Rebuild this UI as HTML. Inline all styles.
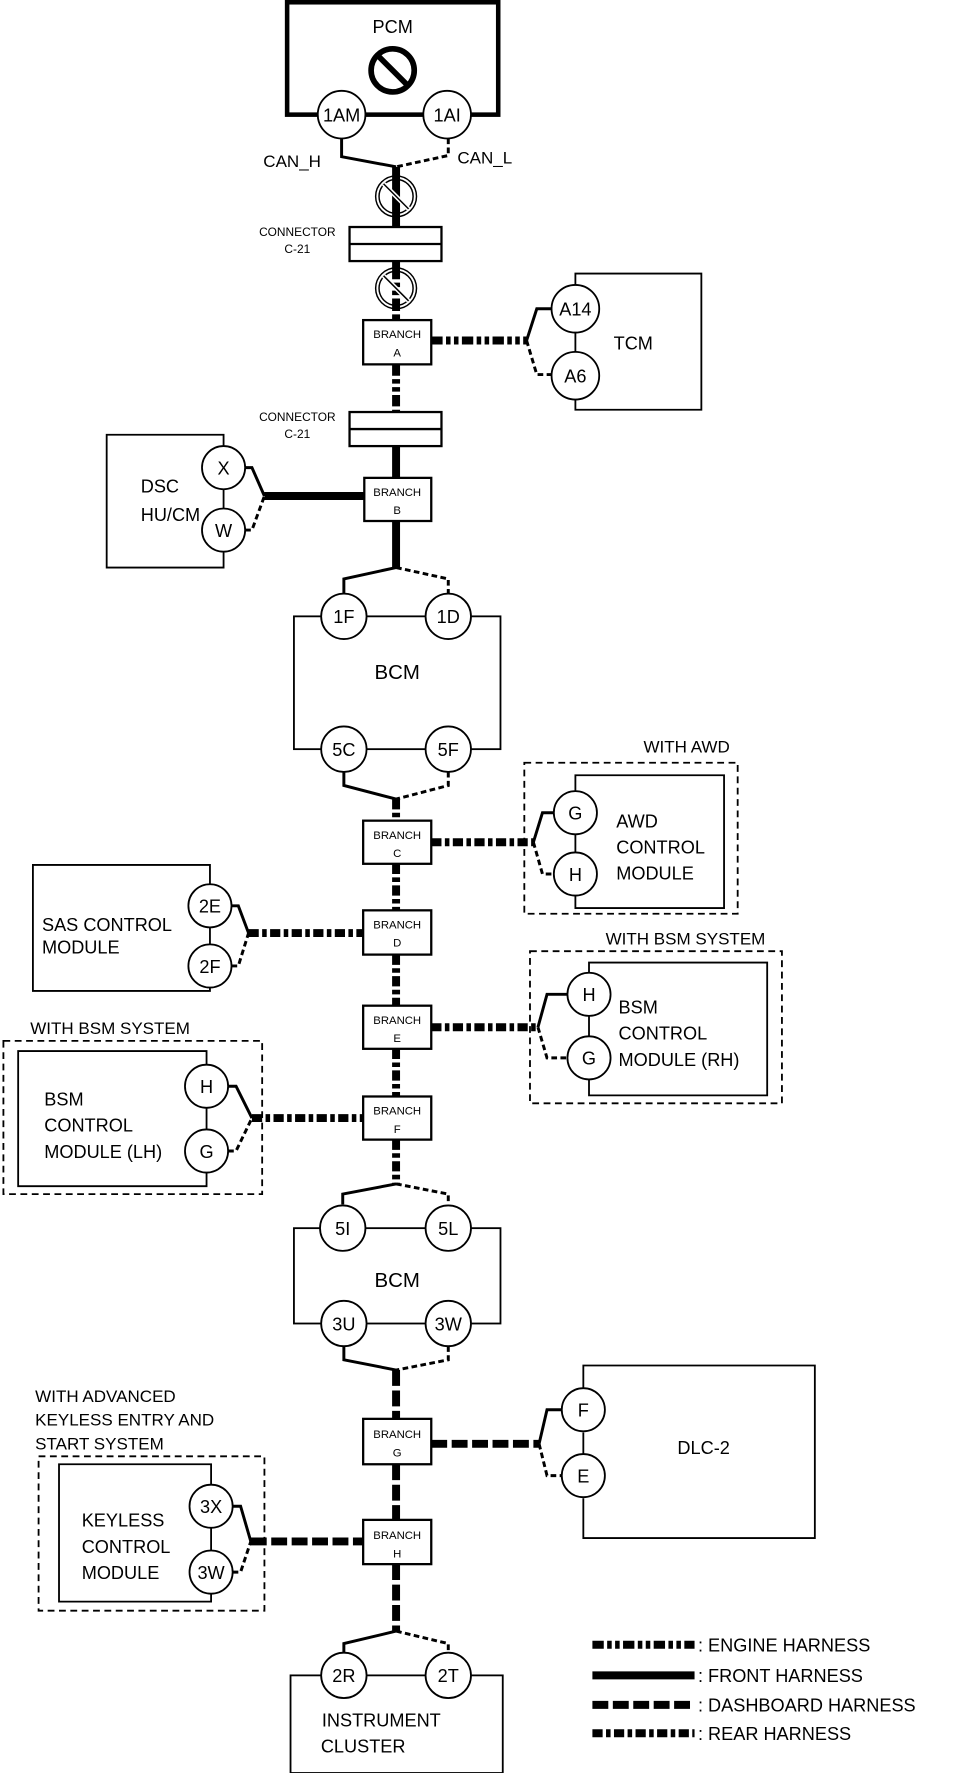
<!DOCTYPE html>
<html><head><meta charset="utf-8"><style>
html,body{margin:0;padding:0;background:#fff}
svg{display:block}
text{font-family:"Liberation Sans",Arial,sans-serif;fill:#000}
</style></head><body>
<svg width="976" height="1773" viewBox="0 0 860 1562" preserveAspectRatio="none" xmlns="http://www.w3.org/2000/svg">
<defs>
<style>
.t{stroke:#000;stroke-width:1.6;fill:none}
.w{stroke:#000;stroke-width:2.6;fill:none}
.d{stroke:#000;stroke-width:2.6;fill:none;stroke-dasharray:5 3}
.front{stroke:#000;stroke-width:7;fill:none}
.eng{stroke:#000;stroke-width:7;fill:none;stroke-dasharray:10 3 4 3 4 3}
.dash{stroke:#000;stroke-width:7;fill:none;stroke-dasharray:14 4}
.rear{stroke:#000;stroke-width:7;fill:none;stroke-dasharray:9 3 4 3}
.c{fill:#fff;stroke:#000;stroke-width:1.6}
.ob{stroke:#000;stroke-width:1.6;fill:none;stroke-dasharray:6 4}
</style>
</defs>

<!-- TRUNK -->
<line class="front" x1="349" y1="147" x2="349" y2="200"/>
<line class="eng" x1="349" y1="230" x2="349" y2="282"/>
<line class="eng" x1="349" y1="321" x2="349" y2="363"/>
<line class="front" x1="349" y1="393" x2="349" y2="421"/>
<line class="front" x1="349" y1="459" x2="349" y2="500"/>
<line class="rear" x1="349" y1="704" x2="349" y2="723"/>
<line class="rear" x1="349" y1="761" x2="349" y2="802"/>
<line class="rear" x1="349" y1="841" x2="349" y2="886"/>
<line class="rear" x1="349" y1="924" x2="349" y2="966"/>
<line class="rear" x1="349" y1="1004" x2="349" y2="1043"/>
<line class="dash" x1="349" y1="1207" x2="349" y2="1250"/>
<line class="dash" x1="349" y1="1290" x2="349" y2="1339"/>
<line class="dash" x1="349" y1="1378" x2="349" y2="1437"/>

<!-- PCM -->
<rect x="253" y="2" width="186" height="99" fill="none" stroke="#000" stroke-width="4"/>
<text x="346" y="29" font-size="16" text-anchor="middle">PCM</text>
<circle cx="346" cy="62" r="19" fill="none" stroke="#000" stroke-width="5"/>
<line x1="333" y1="49" x2="359" y2="75" stroke="#000" stroke-width="5"/>
<circle class="c" cx="301" cy="101" r="21"/><text x="301" y="107" font-size="16" text-anchor="middle">1AM</text>
<circle class="c" cx="394" cy="101" r="21"/><text x="394" y="107" font-size="16" text-anchor="middle">1AI</text>
<polyline class="w" points="301,122 301,138 349,147"/>
<polyline class="d" points="395,122 395,137 349,147"/>
<text x="232" y="147" font-size="15">CAN_H</text>
<text x="403" y="144" font-size="15">CAN_L</text>

<!-- shields -->
<g>
<circle cx="349" cy="173" r="18" fill="#fff" stroke="#000" stroke-width="1.3"/>
<circle cx="349" cy="173" r="15" fill="none" stroke="#000" stroke-width="1.3"/>
<line class="front" x1="349" y1="155" x2="349" y2="191"/>
<line x1="338" y1="162" x2="360" y2="184" stroke="#fff" stroke-width="4"/>
<line x1="338" y1="162" x2="360" y2="184" stroke="#000" stroke-width="1.3"/>
</g>
<g>
<circle cx="349" cy="254" r="18" fill="#fff" stroke="#000" stroke-width="1.3"/>
<circle cx="349" cy="254" r="15" fill="none" stroke="#000" stroke-width="1.3"/>
<line class="eng" x1="349" y1="236" x2="349" y2="272"/>
<line x1="338" y1="243" x2="360" y2="265" stroke="#fff" stroke-width="4"/>
<line x1="338" y1="243" x2="360" y2="265" stroke="#000" stroke-width="1.3"/>
</g>

<!-- connectors -->
<rect x="308" y="200" width="81" height="30" fill="#fff" stroke="#000" stroke-width="2"/>
<line x1="308" y1="215" x2="389" y2="215" stroke="#000" stroke-width="2"/>
<text x="262" y="208" font-size="10.5" text-anchor="middle">CONNECTOR</text>
<text x="262" y="223" font-size="10.5" text-anchor="middle">C-21</text>
<rect x="308" y="363" width="81" height="30" fill="#fff" stroke="#000" stroke-width="2"/>
<line x1="308" y1="378" x2="389" y2="378" stroke="#000" stroke-width="2"/>
<text x="262" y="371" font-size="10.5" text-anchor="middle">CONNECTOR</text>
<text x="262" y="386" font-size="10.5" text-anchor="middle">C-21</text>

<!-- Branch A / TCM -->
<line class="eng" x1="380" y1="300" x2="464" y2="300"/>
<polyline class="w" points="464,300 473,272 486,272"/>
<polyline class="d" points="464,300 473,330 486,330"/>
<polyline class="t" points="507,251 507,241 618,241 618,361 507,361 507,352"/>
<line class="t" x1="507" y1="293" x2="507" y2="310"/>
<circle class="c" cx="507" cy="272" r="21"/><text x="507" y="278" font-size="16" text-anchor="middle">A14</text>
<circle class="c" cx="507" cy="331" r="21"/><text x="507" y="337" font-size="16" text-anchor="middle">A6</text>
<text x="558" y="308" font-size="16" text-anchor="middle">TCM</text>

<!-- Branch B / DSC -->
<line class="front" x1="233" y1="437" x2="321" y2="437"/>
<polyline class="w" points="216,412 222,412 233,437"/>
<polyline class="d" points="216,467 222,467 233,437"/>
<polyline class="t" points="197,393 197,383 94,383 94,500 197,500 197,486"/>
<line class="t" x1="197" y1="431" x2="197" y2="448"/>
<circle class="c" cx="197" cy="412" r="19"/><text x="197" y="418" font-size="16" text-anchor="middle">X</text>
<circle class="c" cx="197" cy="467" r="19"/><text x="197" y="473" font-size="16" text-anchor="middle">W</text>
<text x="124" y="434" font-size="16">DSC</text>
<text x="124" y="459" font-size="16">HU/CM</text>

<!-- BCM 1 -->
<polyline class="w" points="349,500 303,510 303,525"/>
<polyline class="d" points="349,500 395,510 395,525"/>
<rect class="t" x="259" y="543" width="182" height="117"/>
<circle class="c" cx="303" cy="543" r="20"/><text x="303" y="549" font-size="16" text-anchor="middle">1F</text>
<circle class="c" cx="395" cy="543" r="20"/><text x="395" y="549" font-size="16" text-anchor="middle">1D</text>
<text x="350" y="598" font-size="18" text-anchor="middle">BCM</text>
<circle class="c" cx="303" cy="660" r="20"/><text x="303" y="666" font-size="16" text-anchor="middle">5C</text>
<circle class="c" cx="395" cy="660" r="20"/><text x="395" y="666" font-size="16" text-anchor="middle">5F</text>
<polyline class="w" points="303,680 303,692 349,704"/>
<polyline class="d" points="395,680 395,692 349,704"/>

<!-- Branch C / AWD -->
<line class="rear" x1="380" y1="742" x2="470" y2="742"/>
<polyline class="w" points="470,742 478,716 489,716"/>
<polyline class="d" points="470,742 478,770 489,770"/>
<rect class="ob" x="462" y="672" width="188" height="133"/>
<text x="605" y="663" font-size="15" text-anchor="middle">WITH AWD</text>
<polyline class="t" points="507,697 507,683 638,683 638,800 507,800 507,789"/>
<line class="t" x1="507" y1="735" x2="507" y2="751"/>
<circle class="c" cx="507" cy="716" r="19"/><text x="507" y="722" font-size="16" text-anchor="middle">G</text>
<circle class="c" cx="507" cy="770" r="19"/><text x="507" y="776" font-size="16" text-anchor="middle">H</text>
<text x="543" y="729" font-size="16">AWD</text>
<text x="543" y="752" font-size="16">CONTROL</text>
<text x="543" y="775" font-size="16">MODULE</text>

<!-- Branch D / SAS -->
<line class="rear" x1="219" y1="822" x2="320" y2="822"/>
<polyline class="w" points="204,798 210,798 219,822"/>
<polyline class="d" points="204,851 210,851 219,822"/>
<polyline class="t" points="185,779 185,762 29,762 29,873 185,873 185,870"/>
<line class="t" x1="185" y1="817" x2="185" y2="832"/>
<circle class="c" cx="185" cy="798" r="19"/><text x="185" y="804" font-size="16" text-anchor="middle">2E</text>
<circle class="c" cx="185" cy="851" r="19"/><text x="185" y="857" font-size="16" text-anchor="middle">2F</text>
<text x="37" y="820" font-size="16">SAS CONTROL</text>
<text x="37" y="840" font-size="16">MODULE</text>

<!-- Branch E / BSM RH -->
<line class="rear" x1="380" y1="905" x2="474" y2="905"/>
<polyline class="w" points="474,905 482,876 500,876"/>
<polyline class="d" points="474,905 482,932 500,932"/>
<rect class="ob" x="467" y="838" width="222" height="134"/>
<text x="604" y="832" font-size="15" text-anchor="middle">WITH BSM SYSTEM</text>
<polyline class="t" points="519,857 519,848 676,848 676,965 519,965 519,951"/>
<line class="t" x1="519" y1="895" x2="519" y2="913"/>
<circle class="c" cx="519" cy="876" r="19"/><text x="519" y="882" font-size="16" text-anchor="middle">H</text>
<circle class="c" cx="519" cy="932" r="19"/><text x="519" y="938" font-size="16" text-anchor="middle">G</text>
<text x="545" y="893" font-size="16">BSM</text>
<text x="545" y="916" font-size="16">CONTROL</text>
<text x="545" y="939" font-size="16">MODULE (RH)</text>

<!-- Branch F / BSM LH -->
<line class="rear" x1="222" y1="985" x2="320" y2="985"/>
<polyline class="w" points="201,957 208,957 222,985"/>
<polyline class="d" points="201,1014 208,1014 222,985"/>
<rect class="ob" x="3" y="917" width="228" height="135"/>
<text x="97" y="911" font-size="15" text-anchor="middle">WITH BSM SYSTEM</text>
<polyline class="t" points="182,938 182,926 16,926 16,1045 182,1045 182,1033"/>
<line class="t" x1="182" y1="976" x2="182" y2="995"/>
<circle class="c" cx="182" cy="957" r="19"/><text x="182" y="963" font-size="16" text-anchor="middle">H</text>
<circle class="c" cx="182" cy="1014" r="19"/><text x="182" y="1020" font-size="16" text-anchor="middle">G</text>
<text x="39" y="974" font-size="16">BSM</text>
<text x="39" y="997" font-size="16">CONTROL</text>
<text x="39" y="1020" font-size="16">MODULE (LH)</text>

<!-- BCM 2 -->
<polyline class="w" points="349,1043 302,1052 302,1061"/>
<polyline class="d" points="349,1043 395,1052 395,1061"/>
<rect class="t" x="259" y="1082" width="182" height="84"/>
<circle class="c" cx="302" cy="1082" r="20"/><text x="302" y="1088" font-size="16" text-anchor="middle">5I</text>
<circle class="c" cx="395" cy="1082" r="20"/><text x="395" y="1088" font-size="16" text-anchor="middle">5L</text>
<text x="350" y="1134" font-size="18" text-anchor="middle">BCM</text>
<circle class="c" cx="303" cy="1166" r="20"/><text x="303" y="1172" font-size="16" text-anchor="middle">3U</text>
<circle class="c" cx="395" cy="1166" r="20"/><text x="395" y="1172" font-size="16" text-anchor="middle">3W</text>
<polyline class="w" points="303,1186 303,1198 349,1207"/>
<polyline class="d" points="395,1186 395,1198 349,1207"/>

<!-- Branch G / DLC-2 -->
<line class="dash" x1="380" y1="1272" x2="475" y2="1272"/>
<polyline class="w" points="475,1272 482,1242 496,1242"/>
<polyline class="d" points="475,1272 482,1300 496,1300"/>
<polyline class="t" points="514,1223 514,1203 718,1203 718,1355 514,1355 514,1320"/>
<line class="t" x1="514" y1="1262" x2="514" y2="1281"/>
<circle class="c" cx="514" cy="1242" r="19"/><text x="514" y="1248" font-size="16" text-anchor="middle">F</text>
<circle class="c" cx="514" cy="1300" r="19"/><text x="514" y="1306" font-size="16" text-anchor="middle">E</text>
<text x="620" y="1281" font-size="16" text-anchor="middle">DLC-2</text>

<!-- Branch H / Keyless -->
<line class="dash" x1="221" y1="1358" x2="320" y2="1358"/>
<polyline class="w" points="205,1327 212,1327 221,1358"/>
<polyline class="d" points="205,1385 212,1385 221,1358"/>
<rect class="ob" x="34" y="1283" width="199" height="136"/>
<text x="31" y="1235" font-size="15">WITH ADVANCED</text>
<text x="31" y="1256" font-size="15">KEYLESS ENTRY  AND</text>
<text x="31" y="1277" font-size="15">START SYSTEM</text>
<polyline class="t" points="186,1308 186,1290 52,1290 52,1411 186,1411 186,1404"/>
<line class="t" x1="186" y1="1346" x2="186" y2="1366"/>
<circle class="c" cx="186" cy="1327" r="19"/><text x="186" y="1333" font-size="16" text-anchor="middle">3X</text>
<circle class="c" cx="186" cy="1385" r="19"/><text x="186" y="1391" font-size="16" text-anchor="middle">3W</text>
<text x="72" y="1345" font-size="16">KEYLESS</text>
<text x="72" y="1368" font-size="16">CONTROL</text>
<text x="72" y="1391" font-size="16">MODULE</text>

<!-- Instrument cluster -->
<polyline class="w" points="349,1437 303,1448 303,1456"/>
<polyline class="d" points="349,1437 395,1448 395,1456"/>
<rect class="t" x="256" y="1476" width="187" height="86"/>
<circle class="c" cx="303" cy="1476" r="20"/><text x="303" y="1482" font-size="16" text-anchor="middle">2R</text>
<circle class="c" cx="395" cy="1476" r="20"/><text x="395" y="1482" font-size="16" text-anchor="middle">2T</text>
<text x="336" y="1521" font-size="16" text-anchor="middle">INSTRUMENT</text>
<text x="320" y="1544" font-size="16" text-anchor="middle">CLUSTER</text>

<!-- Branch boxes -->
<g font-size="10">
<rect x="320" y="282" width="60" height="39" fill="#fff" stroke="#000" stroke-width="2"/>
<text x="350" y="298" text-anchor="middle">BRANCH</text><text x="350" y="314" text-anchor="middle">A</text>
<rect x="321" y="421" width="59" height="38" fill="#fff" stroke="#000" stroke-width="2"/>
<text x="350" y="437" text-anchor="middle">BRANCH</text><text x="350" y="453" text-anchor="middle">B</text>
<rect x="320" y="723" width="60" height="38" fill="#fff" stroke="#000" stroke-width="2"/>
<text x="350" y="739" text-anchor="middle">BRANCH</text><text x="350" y="755" text-anchor="middle">C</text>
<rect x="320" y="802" width="60" height="39" fill="#fff" stroke="#000" stroke-width="2"/>
<text x="350" y="818" text-anchor="middle">BRANCH</text><text x="350" y="834" text-anchor="middle">D</text>
<rect x="320" y="886" width="60" height="38" fill="#fff" stroke="#000" stroke-width="2"/>
<text x="350" y="902" text-anchor="middle">BRANCH</text><text x="350" y="918" text-anchor="middle">E</text>
<rect x="320" y="966" width="60" height="38" fill="#fff" stroke="#000" stroke-width="2"/>
<text x="350" y="982" text-anchor="middle">BRANCH</text><text x="350" y="998" text-anchor="middle">F</text>
<rect x="320" y="1250" width="60" height="40" fill="#fff" stroke="#000" stroke-width="2"/>
<text x="350" y="1267" text-anchor="middle">BRANCH</text><text x="350" y="1283" text-anchor="middle">G</text>
<rect x="320" y="1339" width="60" height="39" fill="#fff" stroke="#000" stroke-width="2"/>
<text x="350" y="1356" text-anchor="middle">BRANCH</text><text x="350" y="1372" text-anchor="middle">H</text>
</g>

<!-- Legend -->
<line class="eng" x1="522" y1="1449" x2="612" y2="1449"/>
<line class="front" x1="522" y1="1476" x2="612" y2="1476"/>
<line class="dash" x1="522" y1="1502" x2="612" y2="1502"/>
<line class="rear" x1="522" y1="1527" x2="612" y2="1527"/>
<g font-size="16">
<text x="615" y="1455">: ENGINE HARNESS</text>
<text x="615" y="1482">: FRONT HARNESS</text>
<text x="615" y="1508">: DASHBOARD HARNESS</text>
<text x="615" y="1533">: REAR HARNESS</text>
</g>
</svg>
</body></html>
